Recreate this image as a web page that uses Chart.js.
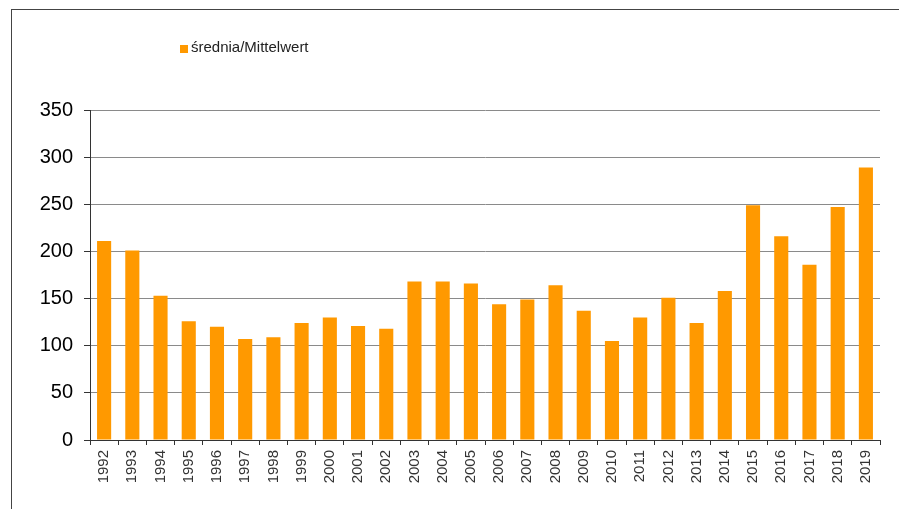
<!DOCTYPE html>
<html>
<head>
<meta charset="utf-8">
<script src="https://cdn.jsdelivr.net/npm/chart.js@4"></script>
<style>
    html, body { margin: 0; padding: 0; background: #fff; }
    #wrap { width: 899px; height: 509px; position: relative; }
</style>
</head>
<body>
<div id="wrap"><canvas id="barChart" width="899" height="509"></canvas></div>
<script>
// Data
const years = ['1992', '1993', '1994', '1995', '1996', '1997', '1998', '1999', '2000', '2001',
    '2002', '2003', '2004', '2005', '2006', '2007', '2008', '2009', '2010', '2011',
    '2012', '2013', '2014', '2015', '2016', '2017', '2018', '2019'];
const averages = [211, 201, 153, 126, 120, 107, 109, 124, 130, 121,
    118, 168, 168, 166, 144, 149, 164, 137, 105, 130,
    151, 124, 158, 249, 216, 186, 247, 289];
const yTicks = [0, 50, 100, 150, 200, 250, 300, 350];
const seriesLabel = 'średnia/Mittelwert';

// Outer frame and the small legend in the top-left
const framePlugin = {
    id: 'frame',
    afterDraw: function(chart) {
        const c = chart.ctx;
        c.save();
        c.strokeStyle = '#444';
        c.lineWidth = 1;
        c.strokeRect(11.5, 9.5, 920, 520);
        const ds = chart.data.datasets[0];
        c.fillStyle = ds.backgroundColor;
        c.fillRect(180, 45, 8, 8);
        c.fillStyle = '#222';
        c.font = '15px "Liberation Sans", Arial, sans-serif';
        c.textBaseline = 'middle';
        c.fillText(ds.label, 191, 48);
        c.restore();
    }
};

new Chart(document.getElementById('barChart'), {
    type: 'bar',
    data: {
        labels: years,
        datasets: [{
            label: seriesLabel,
            data: averages,
            backgroundColor: '#FF9900',
            borderWidth: 0,
            barPercentage: 0.5,
            categoryPercentage: 1.0
        }]
    },
    options: {
        responsive: false,
        animation: false,
        layout: { padding: { top: 110, right: 19, left: 0, bottom: 0 } },
        plugins: {
            legend: { display: false },
            tooltip: { enabled: false }
        },
        scales: {
            x: {
                offset: true,
                grid: {
                    offset: true,
                    drawOnChartArea: false,
                    tickLength: 5,
                    color: '#333'
                },
                border: { color: '#333', width: 1 },
                ticks: {
                    minRotation: 90,
                    maxRotation: 90,
                    autoSkip: false,
                    color: '#333',
                    padding: 5,
                    font: { family: '"Liberation Sans", Arial, sans-serif', size: 15 }
                },
                afterFit: function(scale) { scale.height = 69; }
            },
            y: {
                min: 0,
                max: 350,
                afterBuildTicks: function(scale) {
                    scale.ticks = yTicks.map(v => ({ value: v }));
                },
                grid: {
                    color: '#8a8a8a',
                    tickLength: 6,
                    tickColor: '#333'
                },
                border: { color: '#333', width: 1 },
                ticks: {
                    color: '#000',
                    padding: 11,
                    font: { family: '"Liberation Sans", Arial, sans-serif', size: 20 }
                },
                afterFit: function(scale) { scale.width = 90; }
            }
        }
    },
    plugins: [framePlugin]
});
</script>
</body>
</html>
